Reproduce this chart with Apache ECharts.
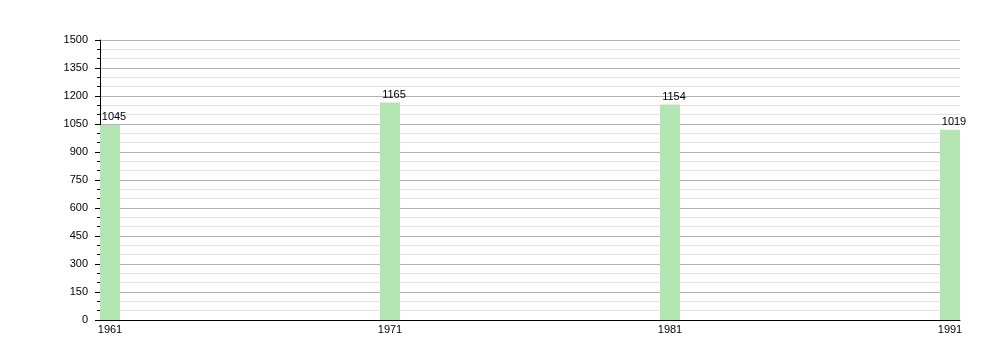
<!DOCTYPE html>
<html>
<head>
<meta charset="utf-8">
<script src="https://cdn.jsdelivr.net/npm/echarts@6/dist/echarts.min.js"></script>
<style>html,body{margin:0;padding:0;background:#fff;}#c{width:1000px;height:360px;}</style>
</head>
<body>
<div id="c"></div>
<script>
var years = [1961, 1971, 1981, 1991];
var values = [1045, 1165, 1154, 1019];
var yTicks = [0, 150, 300, 450, 600, 750, 900, 1050, 1200, 1350, 1500];

var chart = echarts.init(document.getElementById('c'), null, {renderer: 'canvas'});
var font = 'Liberation Sans, Arial, sans-serif';
chart.setOption({
  animation: false,
  backgroundColor: '#ffffff',
  grid: {left: 100, right: 40, top: 40, bottom: 40, containLabel: false},
  xAxis: {
    type: 'value',
    min: years[0] - 10 / 28,
    max: years[years.length - 1] + 10 / 28,
    axisLine: {show: true, lineStyle: {color: '#000', width: 1}},
    axisTick: {show: false},
    splitLine: {show: false},
    axisLabel: {
      customValues: years,
      color: '#000', fontFamily: font, fontSize: 11, margin: 4,
      formatter: function (v) { return String(Math.round(v)); }
    }
  },
  yAxis: {
    type: 'value',
    min: yTicks[0],
    max: yTicks[yTicks.length - 1],
    interval: 150,
    axisLine: {show: true, lineStyle: {color: '#000', width: 1}},
    axisTick: {show: true, length: 5, lineStyle: {color: '#000'}},
    minorTick: {show: true, splitNumber: 3, length: 3, lineStyle: {color: '#000'}},
    axisLabel: {color: '#000', fontFamily: font, fontSize: 11, margin: 12, padding: [2, 0, 0, 0],
      formatter: function (v) { return String(v); }},
    splitLine: {show: true, lineStyle: {color: '#b4b4b4', width: 1}},
    minorSplitLine: {show: true, lineStyle: {color: '#e2e2e2', width: 1}}
  },
  series: [{
    type: 'bar',
    barWidth: 20,
    data: years.map(function (y, i) { return [y, values[i]]; }),
    itemStyle: {color: '#b3e5b3'},
    label: {show: true, position: 'top', distance: 3, offset: [4, 1], color: '#000', fontFamily: font, fontSize: 11,
      formatter: function (p) { return String(p.value[1]); }}
  }]
});
</script>
</body>
</html>
